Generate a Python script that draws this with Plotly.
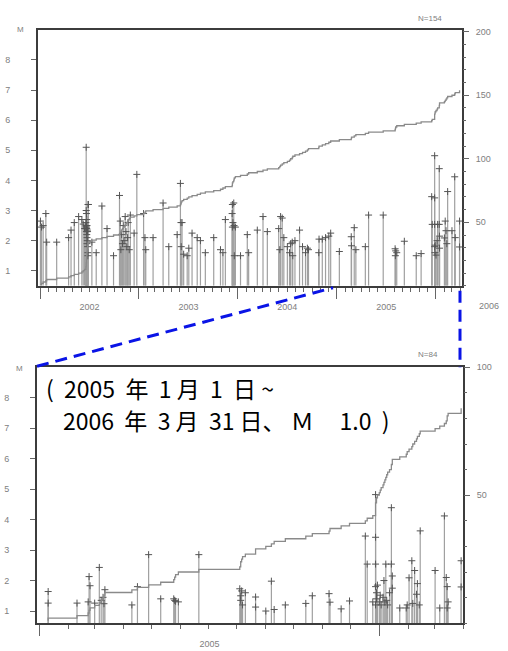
import plotly.graph_objects as go
import numpy as np

# ---------------- data ----------------
# upper panel: 2002-01 .. 2006-03, N=154
top_dates = [
    "2002-01-02", "2002-01-06", "2002-01-12", "2002-01-22", "2002-01-25",
    "2002-03-03", "2002-04-16", "2002-04-25", "2002-05-07", "2002-05-23",
    "2002-06-04", "2002-06-09", "2002-06-14",
    "2002-06-19", "2002-06-19", "2002-06-20", "2002-06-20", "2002-06-20",
    "2002-06-21", "2002-06-21", "2002-06-21", "2002-06-22", "2002-06-22",
    "2002-06-22", "2002-06-23", "2002-06-23", "2002-06-23", "2002-06-24",
    "2002-06-24", "2002-06-25", "2002-06-25", "2002-06-26", "2002-06-26",
    "2002-06-27", "2002-06-28",
    "2002-07-11", "2002-07-27", "2002-08-17", "2002-09-05", "2002-09-29",
    "2002-10-21", "2002-10-24", "2002-10-26", "2002-10-29", "2002-11-01",
    "2002-11-04", "2002-11-07", "2002-11-11", "2002-11-14", "2002-11-17",
    "2002-11-20", "2002-11-22", "2002-11-26", "2002-11-30",
    "2002-12-14", "2002-12-24",
    "2003-01-18", "2003-01-23", "2003-01-26", "2003-02-22", "2003-03-31",
    "2003-04-21", "2003-05-22", "2003-06-03", "2003-06-05", "2003-06-06",
    "2003-06-09", "2003-06-15", "2003-06-28", "2003-07-04", "2003-07-16",
    "2003-08-04", "2003-08-16", "2003-09-03", "2003-10-04", "2003-10-29",
    "2003-11-07", "2003-11-16", "2003-12-11", "2003-12-12", "2003-12-12",
    "2003-12-14", "2003-12-17", "2003-12-18", "2003-12-19", "2003-12-23",
    "2004-01-11", "2004-02-05", "2004-02-10", "2004-03-13", "2004-04-03",
    "2004-04-19", "2004-05-31", "2004-06-04", "2004-06-07", "2004-06-13",
    "2004-06-19", "2004-07-02", "2004-07-10", "2004-07-14", "2004-07-20",
    "2004-07-22", "2004-07-30", "2004-08-16", "2004-08-27", "2004-09-07",
    "2004-09-14", "2004-09-18", "2004-10-26", "2004-10-27", "2004-11-08",
    "2004-11-20", "2004-12-02", "2004-12-09",
    "2005-01-10", "2005-02-23", "2005-02-24", "2005-03-06", "2005-03-12",
    "2005-04-16", "2005-04-28", "2005-06-21", "2005-08-04", "2005-08-05",
    "2005-08-06", "2005-08-10", "2005-09-07", "2005-10-21", "2005-11-08",
    "2005-12-17", "2005-12-19", "2005-12-28", "2005-12-28", "2005-12-28",
    "2005-12-28", "2005-12-29", "2005-12-30", "2006-01-02", "2006-01-06",
    "2006-01-08", "2006-01-14", "2006-01-14", "2006-01-15", "2006-01-15",
    "2006-02-02", "2006-02-05", "2006-02-08", "2006-02-11", "2006-02-14",
    "2006-03-02", "2006-03-12", "2006-03-14", "2006-03-30", "2006-03-30",
]
top_mag = [
    2.65, 2.45, 2.5, 2.9, 1.95,
    1.95, 2.1, 2.35, 2.6, 2.8,
    2.7, 2.55, 2.4,
    2.4, 2.6, 5.1, 3.0, 2.5,
    2.9, 2.45, 2.3, 2.7, 2.4,
    2.2, 2.5, 2.1, 1.9, 2.35,
    2.0, 2.3, 1.8, 1.6, 1.5,
    3.2, 3.2,
    1.95, 1.6, 3.15, 2.4, 1.5,
    3.5, 2.65, 1.7, 2.2, 1.9,
    2.5, 2.0, 2.8, 2.3, 1.8,
    2.1, 2.6, 1.7, 2.85,
    2.25, 4.2,
    2.9, 2.1, 1.7, 2.1, 3.25,
    1.8, 2.2, 3.9, 2.6, 1.8,
    2.6, 1.55, 1.5, 1.75, 2.25,
    2.1, 2.0, 1.6, 2.1, 1.7,
    1.6, 2.7, 2.9, 3.2, 2.45,
    2.6, 3.25, 2.5, 1.5, 2.45,
    1.5, 2.2, 1.6, 2.35, 2.8,
    2.3, 2.4, 1.7, 2.8, 2.75,
    2.1, 1.8, 1.6, 1.9, 1.95,
    1.5, 2.0, 2.35, 1.8, 1.6,
    1.75, 1.7, 1.6, 2.05, 2.05,
    2.1, 2.15, 2.25,
    1.64, 2.13, 1.83, 2.43, 1.70,
    1.80, 2.85, 2.85, 1.73, 1.50,
    1.66, 1.60, 1.98, 1.50, 1.57,
    3.46, 2.54, 4.82, 3.42, 2.54,
    1.80, 1.60, 1.85, 1.52, 2.00,
    2.54, 4.39, 2.54, 1.75, 2.15,
    2.09, 2.65, 2.33, 1.90, 3.63,
    2.33, 4.12, 2.10, 2.65, 1.79,
]

# lower panel: 2005-01-01 .. 2006-03-31, M>=1.0, N=84
bot_dates = [
    "2005-01-10", "2005-01-10", "2005-02-10", "2005-02-22", "2005-02-23",
    "2005-02-24", "2005-03-01", "2005-03-06", "2005-03-08", "2005-03-10",
    "2005-03-11", "2005-03-12", "2005-04-10", "2005-04-16", "2005-04-28",
    "2005-05-11", "2005-05-25", "2005-05-26", "2005-05-27", "2005-05-30",
    "2005-06-21", "2005-08-04", "2005-08-05", "2005-08-05", "2005-08-06",
    "2005-08-07", "2005-08-10", "2005-08-21", "2005-08-21", "2005-09-01",
    "2005-09-07", "2005-09-10", "2005-09-22", "2005-10-14", "2005-10-21",
    "2005-11-08", "2005-11-09", "2005-11-21", "2005-11-30", "2005-12-17",
    "2005-12-19", "2005-12-25", "2005-12-28", "2005-12-28", "2005-12-28",
    "2005-12-28", "2005-12-28", "2005-12-29", "2005-12-29", "2005-12-30",
    "2006-01-01", "2006-01-02", "2006-01-03", "2006-01-05", "2006-01-06",
    "2006-01-07", "2006-01-08", "2006-01-09", "2006-01-10", "2006-01-12",
    "2006-01-14", "2006-01-14", "2006-01-15", "2006-01-15", "2006-01-23",
    "2006-01-30", "2006-01-31", "2006-02-02", "2006-02-05", "2006-02-06",
    "2006-02-08", "2006-02-10", "2006-02-11", "2006-02-13", "2006-02-14",
    "2006-03-02", "2006-03-07", "2006-03-12", "2006-03-14", "2006-03-15",
    "2006-03-15", "2006-03-16", "2006-03-30", "2006-03-30",
]
bot_mag = [
    1.64, 1.26, 1.26, 1.30, 2.13,
    1.83, 1.26, 2.43, 1.35, 1.45,
    1.24, 1.70, 1.20, 1.80, 2.85,
    1.40, 1.40, 1.35, 1.32, 1.30,
    2.85, 1.73, 1.35, 1.50, 1.66,
    1.20, 1.60, 1.46, 1.13, 1.00,
    1.98, 1.05, 1.20, 1.25, 1.50,
    1.57, 1.29, 1.07, 1.33, 3.46,
    2.54, 1.30, 4.82, 3.42, 2.54,
    1.80, 1.20, 1.40, 1.60, 1.85,
    1.30, 1.52, 1.20, 1.45, 2.00,
    1.30, 2.54, 1.35, 1.20, 1.60,
    4.39, 2.54, 1.75, 2.15, 1.10,
    1.10, 1.20, 2.09, 2.65, 1.25,
    2.33, 1.55, 1.90, 1.20, 3.63,
    2.33, 1.10, 4.12, 2.10, 1.80,
    1.10, 1.30, 2.65, 1.79,
]

m_ticks = [1, 2, 3, 4, 5, 6, 7, 8]
top_count_ticks = [50, 100, 150, 200]
bot_count_ticks = [50, 100]

# ---------------- layout helpers ----------------
W, H = 508, 651
def px(x):
    return x / W
def py(y):
    return 1 - y / H

TOP_M = [0.5, 9.0]
BOT_M = [0.6, 9.0]

STEM = "#a0a0a0"
MARK = "#555555"
CUM = "#8a8a8a"
FRAME = "#3c3c3c"
TICKC = "#666666"
LBL = dict(family="Liberation Sans, Arial, sans-serif", size=9, color="#808080")

fig = go.Figure()

def add_panel(dates, mags, xa, ya, yc, mmin):
    fig.add_trace(go.Scatter(
        x=dates, y=mags, mode="markers", xaxis=xa, yaxis=ya,
        marker=dict(symbol="cross-thin", size=5, line=dict(width=1, color=MARK)),
        error_y=dict(type="data", symmetric=False, array=[0] * len(mags),
                     arrayminus=[m - mmin for m in mags], width=0,
                     thickness=1.2, color=STEM),
        showlegend=False, hoverinfo="skip"))
    cum = np.arange(1, len(dates) + 1)
    fig.add_trace(go.Scatter(
        x=dates, y=cum, mode="lines", xaxis=xa, yaxis=yc,
        line=dict(shape="hv", color=CUM, width=1.3),
        showlegend=False, hoverinfo="skip"))

add_panel(top_dates, top_mag, "x", "y", "y2", TOP_M[0])
add_panel(bot_dates, bot_mag, "x2", "y3", "y4", BOT_M[0])

def xaxis_cfg(dom, anchor, rng, tick0):
    return dict(domain=dom, anchor=anchor, type="date", range=rng,
                showline=True, mirror=True, linecolor=FRAME, linewidth=2,
                ticks="outside", ticklen=11, tickcolor=TICKC, tickwidth=1,
                dtick="M12", tick0=tick0, tickformat="%Y", ticklabelmode="period",
                tickfont=LBL, showgrid=False, zeroline=False,
                minor=dict(dtick="M1", tick0=tick0, ticks="outside", ticklen=4,
                           tickcolor=TICKC, showgrid=False))

def maxis_cfg(dom, anchor, rng):
    return dict(domain=dom, anchor=anchor, range=rng, tickmode="array",
                tickvals=m_ticks, ticks="outside", ticklen=5, tickcolor=TICKC,
                showline=True, mirror=True, linecolor=FRAME, linewidth=2,
                tickfont=LBL, showgrid=False, zeroline=False,
                ticklabelstandoff=19)

def caxis_cfg(over, anchor, rng, vals):
    return dict(overlaying=over, anchor=anchor, side="right", range=rng,
                tickmode="array", tickvals=vals, ticks="outside", ticklen=6,
                tickcolor=TICKC, tickfont=LBL, showline=False, showgrid=False,
                zeroline=False, ticklabelstandoff=5,
                minor=dict(tickmode="linear", tick0=0, dtick=10, ticks="outside",
                           ticklen=3, tickcolor=TICKC, showgrid=False))

fig.update_layout(
    width=W, height=H, margin=dict(l=0, r=0, t=0, b=0),
    paper_bgcolor="white", plot_bgcolor="white",
    xaxis=xaxis_cfg([px(38), px(462)], "y", ["2001-12-24", "2006-04-08"], "2002-01-01"),
    yaxis=maxis_cfg([py(283), py(25)], "x", TOP_M),
    yaxis2=caxis_cfg("y", "x", [0, 201.5], top_count_ticks),
    xaxis2=xaxis_cfg([px(37), px(463)], "y3", ["2004-12-29", "2006-04-01"], "2005-01-01"),
    yaxis3=maxis_cfg([py(623), py(365)], "x2", BOT_M),
    yaxis4=caxis_cfg("y3", "x2", [0, 100], bot_count_ticks),
)

# blue dashed zoom connectors
BLUE = "#0a14e6"
fig.add_shape(type="line", xref="paper", yref="paper",
              x0=px(37), y0=py(364), x1=px(333), y1=py(285),
              line=dict(color=BLUE, width=3, dash="12px,7px"))
fig.add_shape(type="line", xref="paper", yref="paper",
              x0=px(460), y0=py(288), x1=px(460), y1=py(365),
              line=dict(color=BLUE, width=3, dash="12px,7px"))

small = dict(family="Liberation Sans, Arial, sans-serif", size=8, color="#808080")
def note(text, x, y, font, xanchor="center"):
    fig.add_annotation(text=text, xref="paper", yref="paper", x=px(x), y=py(y),
                       xanchor=xanchor, yanchor="middle", showarrow=False, font=font)

note("M", 20, 25, small)
note("M", 19, 366, small)
note("N=154", 430, 14, small)
note("N=84", 428, 352, small)
note("2006", 489, 303, LBL)

NB = "\u00a0"
big = dict(family="Noto Sans CJK JP, sans-serif", size=23, color="black")
line1 = "(" + NB * 2 + "2005" + NB * 2 + "年" + NB * 2 + "1" + NB + "月" + NB * 2 + "1" + NB * 2 + "日" + NB + "~"
line2 = "2006" + NB * 2 + "年" + NB * 2 + "3" + NB + "月" + NB * 2 + "31" + NB + "日、" + NB + "Ｍ" + NB * 5 + "1.0" + NB * 2 + ")"
note(line1, 44, 386, big, "left")
note(line2, 61, 418, big, "left")

fig.write_html("out.html", config={"displayModeBar": False},
               post_script="document.body.style.margin='0';document.body.style.padding='0';document.body.style.overflow='hidden';")
